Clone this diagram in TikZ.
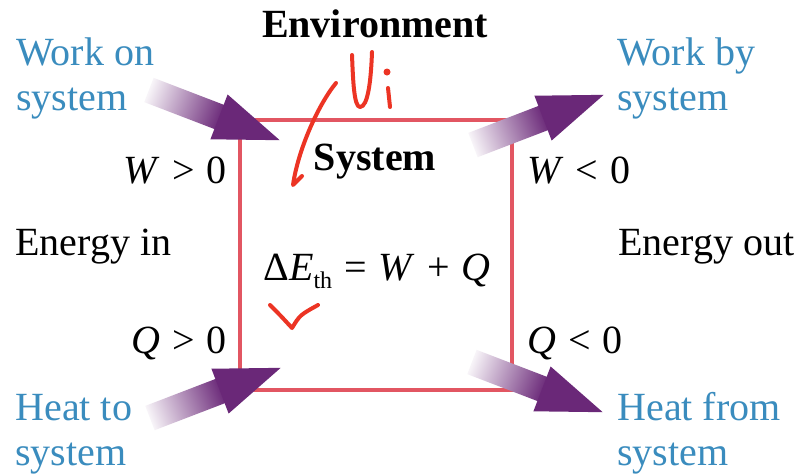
\documentclass[tikz,border=0pt]{standalone}
\usepackage{fontspec}
\setmainfont{Liberation Serif}
\definecolor{boxred}{RGB}{226,86,98}
\definecolor{labelblue}{RGB}{58,140,190}
\definecolor{arrowpurple}{RGB}{106,40,120}
\definecolor{inkred}{RGB}{236,52,36}
\newcommand\gap{\hspace{.3em}}
\begin{document}
\begin{tikzpicture}[x=0.5pt,y=-0.5pt,font=\fontsize{20}{22.5}\selectfont,
  lbl/.style={inner sep=0pt,align=left},
  bluelbl/.style={lbl,text=labelblue},
  ink/.style={draw=inkred,line width=2pt,line cap=round,line join=round}]
  \useasboundingbox[fill=white] (0,0) rectangle (807,473);
  % the system
  \node[draw=boxred,line width=1.9pt,minimum width=136pt,minimum height=135pt,inner sep=0pt] (sys) at (376,255) {};
  \node[lbl,font=\fontsize{20}{22.5}\selectfont\bfseries,anchor=base] (env) at (375,37) {Environment};
  \node[lbl,font=\fontsize{20}{22.5}\selectfont\bfseries,anchor=base] (syslab) at (375,170) {System};
  \node[lbl,anchor=base] (eq) at (377,280)
    {Δ\textit{E}\raisebox{-4pt}{\fontsize{12}{12}\selectfont th}\gap=\gap\textit{W}\gap+\gap\textit{Q}};
  % energy flows
  \coordinate (won) at (149,90);
  \coordinate (wby) at (473,145);
  \coordinate (hto) at (150,418);
  \coordinate (hfrom) at (472,362);
  \foreach \c/\a in {won/-21,wby/21,hto/21,hfrom/-21}{
    \begin{scope}[transform canvas={shift={(\c)},rotate=\a}]
      \shade[left color=arrowpurple!5,right color=arrowpurple] (0,-13) rectangle (78,13);
      \fill[arrowpurple] (75,-24) -- (140,0) -- (75,24) -- cycle;
    \end{scope}
  }
  \node[bluelbl,anchor=base west] (wonlab) at (16,110) {Work on\\system};
  \node[bluelbl,anchor=base west] (wbylab) at (617,110) {Work by\\system};
  \node[bluelbl,anchor=base west] (htolab) at (15,465) {Heat to\\system};
  \node[bluelbl,anchor=base west] (hfromlab) at (617,465) {Heat from\\system};
  \node[lbl,anchor=base east] (wpos) at (227,183) {\textit{W}\gap>\gap0};
  \node[lbl,anchor=base west] (wneg) at (527,183) {\textit{W}\gap<\gap0};
  \node[lbl,anchor=base east] (qpos) at (227,353) {\textit{Q}\gap>\gap0};
  \node[lbl,anchor=base west] (qneg) at (527,353) {\textit{Q}\gap<\gap0};
  \node[lbl,anchor=base west] (ein) at (15,255) {Energy in};
  \node[lbl,anchor=base west] (eout) at (618,255) {Energy out};
  % pen marks
  \draw[ink] (336,83) .. controls (318,105) and (298,150) .. (293,185) -- (302,176);
  \draw[ink] (352,55) .. controls (353,80) and (354,107) .. (360,107) .. controls (368,107) and (371,80) .. (372,52);
  \draw[ink] (388,88) -- (390,107);
  \fill[inkred] (387,72) circle (3.5);
  \draw[ink] (270,305) .. controls (280,315) .. (292,328) .. controls (300,315) .. (318,305);
\end{tikzpicture}
\end{document}
